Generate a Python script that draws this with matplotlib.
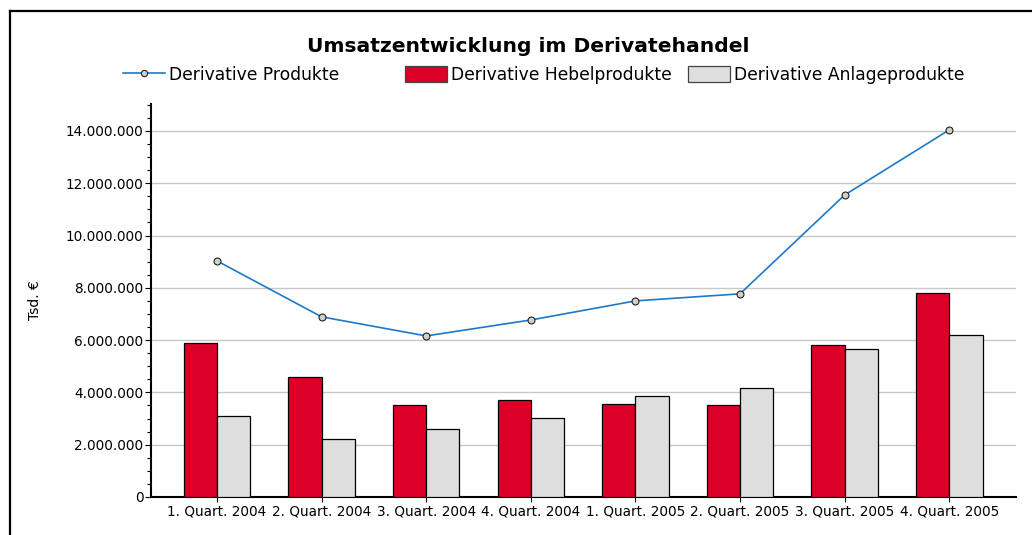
import matplotlib
matplotlib.use("Agg")
import matplotlib.pyplot as plt
import numpy as np
from matplotlib.ticker import FuncFormatter, MultipleLocator
from matplotlib.lines import Line2D
from matplotlib.patches import Patch

categories = ["1. Quart. 2004", "2. Quart. 2004", "3. Quart. 2004", "4. Quart. 2004",
              "1. Quart. 2005", "2. Quart. 2005", "3. Quart. 2005", "4. Quart. 2005"]
hebel = [5890000, 4590000, 3520000, 3710000, 3560000, 3510000, 5810000, 7800000]
anlage = [3100000, 2220000, 2600000, 3020000, 3880000, 4170000, 5660000, 6200000]
produkte = [9030000, 6890000, 6160000, 6770000, 7500000, 7770000, 11550000, 14040000]

title = "Umsatzentwicklung im Derivatehandel"
label_line = "Derivative Produkte"
label_hebel = "Derivative Hebelprodukte"
label_anlage = "Derivative Anlageprodukte"
ylabel = "Tsd. €"

RED = "#dc0028"
GREY = "#dedede"
BLUE = "#1f78c8"

plt.rcParams["font.family"] = ["DejaVu Sans"]

W, H = 1032, 535
fig = plt.figure(figsize=(W / 100, H / 100), dpi=100)
ax = fig.add_axes([151 / W, 1 - 497 / H, (1016 - 151) / W, (497 - 104) / H])

x = np.arange(len(categories))
bw = 0.318
ax.bar(x - bw / 2, hebel, width=bw, color=RED, edgecolor="black", linewidth=0.9, zorder=3)
ax.bar(x + bw / 2, anlage, width=bw, color=GREY, edgecolor="black", linewidth=0.9, zorder=3)
ax.plot(x, produkte, color=BLUE, linewidth=1.2, marker="o", markersize=5,
        markerfacecolor="#d0d0c8", markeredgecolor="#222222", markeredgewidth=0.8, zorder=4)

ax.set_xlim(-0.631, 7.638)
ax.set_ylim(0, 15030000)
ax.yaxis.set_major_locator(MultipleLocator(2000000))
ax.yaxis.set_minor_locator(MultipleLocator(500000))
ax.yaxis.set_major_formatter(FuncFormatter(lambda v, p: f"{int(round(v)):,}".replace(",", ".")))
ax.set_xticks(x)
ax.set_xticklabels(categories)

ax.grid(axis="y", which="major", color="#c8c8c8", linewidth=1.0, zorder=0)
ax.set_axisbelow(True)
for s in ["top", "right"]:
    ax.spines[s].set_visible(False)
ax.spines["left"].set_linewidth(1.5)
ax.spines["bottom"].set_linewidth(1.5)

ax.tick_params(axis="y", which="major", length=4.5, width=0.8, pad=1, labelsize=9.8, colors="black")
ax.tick_params(axis="y", which="minor", length=3, width=0.8)
ax.tick_params(axis="x", which="major", length=3.6, width=0.8, pad=2, labelsize=9.8)

ax.set_ylabel(ylabel, fontsize=10)
ax.yaxis.set_label_coords((42 - 151) / 865, 0.5)

fig.text(528 / W, 1 - 47 / H, title, fontsize=14.6, fontweight="bold", ha="center", va="center")

fs_leg = 12.3
fs_px = fs_leg * 100 / 72
ly = 1 - 75 / H
h_line = Line2D([], [], color=BLUE, linewidth=1.2, marker="o", markersize=4.5,
                markerfacecolor="#d0d0c8", markeredgecolor="#222222", markeredgewidth=0.8)
h_red = Patch(facecolor=RED, edgecolor="#444444", linewidth=0.9)
h_grey = Patch(facecolor=GREY, edgecolor="#444444", linewidth=0.9)
for h, lab, xpos in [(h_line, label_line, 123), (h_red, label_hebel, 405), (h_grey, label_anlage, 688)]:
    fig.legend(handles=[h], labels=[lab], loc="center left", bbox_to_anchor=(xpos / W, ly),
               frameon=False, fontsize=fs_leg, borderpad=0, borderaxespad=0,
               handlelength=42 / fs_px, handleheight=18 / fs_px, handletextpad=4 / fs_px)

# outer frame (top and left edges visible)
fig.add_artist(Line2D([10 / W, 1.0], [1 - 11 / H, 1 - 11 / H], color="black", linewidth=1.6,
                      transform=fig.transFigure))
fig.add_artist(Line2D([10 / W, 10 / W], [0.0, 1 - 11 / H], color="black", linewidth=1.6,
                      transform=fig.transFigure))

fig.savefig("out.png", dpi=100)
